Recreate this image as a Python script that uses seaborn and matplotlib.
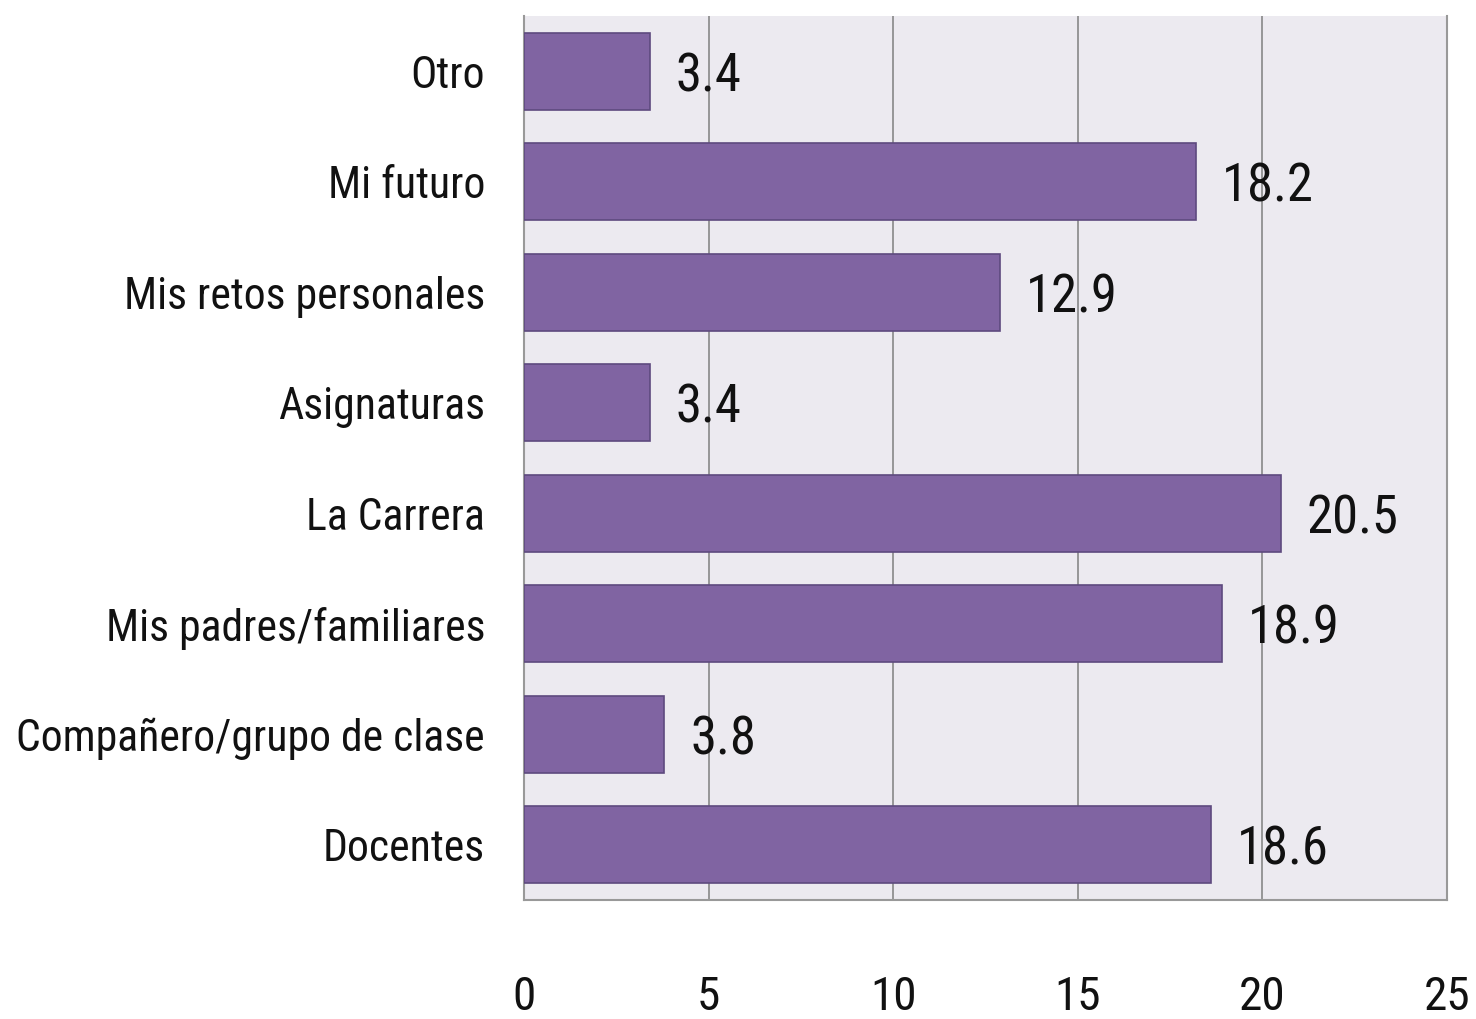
import matplotlib
matplotlib.use('Agg')
import matplotlib.pyplot as plt
import seaborn as sns
import pandas as pd
from matplotlib import font_manager

categories = ['Otro', 'Mi futuro', 'Mis retos personales', 'Asignaturas', 'La Carrera',
              'Mis padres/familiares', 'Compañero/grupo de clase', 'Docentes']
values = [3.4, 18.2, 12.9, 3.4, 20.5, 18.9, 3.8, 18.6]
value_labels = ['3.4', '18.2', '12.9', '3.4', '20.5', '18.9', '3.8', '18.6']
x_ticks = [0, 5, 10, 15, 20, 25]

sns.set_theme(style='white')

# prefer a narrow face, the original looks like condensed Calibri
names = {f.name for f in font_manager.fontManager.ttflist}
fam, scale = 'Liberation Sans', 0.83
for cand in ['Liberation Sans Narrow', 'Roboto Condensed', 'Open Sans Condensed', 'DejaVu Sans Condensed']:
    if cand in names:
        fam, scale = cand, 1.0
        break
plt.rcParams['font.family'] = [fam, 'DejaVu Sans']

df = pd.DataFrame({'cat': categories, 'val': values})

fig = plt.figure(figsize=(14.76, 10.19), dpi=100)
ax = fig.add_axes([524 / 1476, 1 - 900 / 1019, (1447 - 524) / 1476, (900 - 16) / 1019])
ax.set_facecolor('#ECEAF0')

sns.barplot(data=df, x='val', y='cat', ax=ax, color='#8064A2', saturation=1,
            width=0.70, edgecolor='#5E4A7E', linewidth=1.2, zorder=3)

for i, (v, lab) in enumerate(zip(values, value_labels)):
    ax.text(v + 0.7, i, lab, va='center_baseline', ha='left', fontsize=38 * scale,
            color='#111111', zorder=4)

ax.set_xlim(0, 25)
ax.set_xticks(x_ticks)
ax.set_xticklabels([str(t) for t in x_ticks], fontsize=34 * scale)
ax.tick_params(axis='x', length=0, pad=54, labelcolor='#111111')
ax.tick_params(axis='y', length=0, pad=28, labelsize=31.5 * scale, labelcolor='#111111')
ax.grid(axis='x', color='#888888', linewidth=1.2, zorder=0)
ax.set_xlabel('')
ax.set_ylabel('')
for s in ['left', 'right', 'bottom']:
    ax.spines[s].set_color('#999999')
    ax.spines[s].set_linewidth(1.5)
ax.spines['top'].set_visible(False)

fig.savefig('out.png', dpi=100)
